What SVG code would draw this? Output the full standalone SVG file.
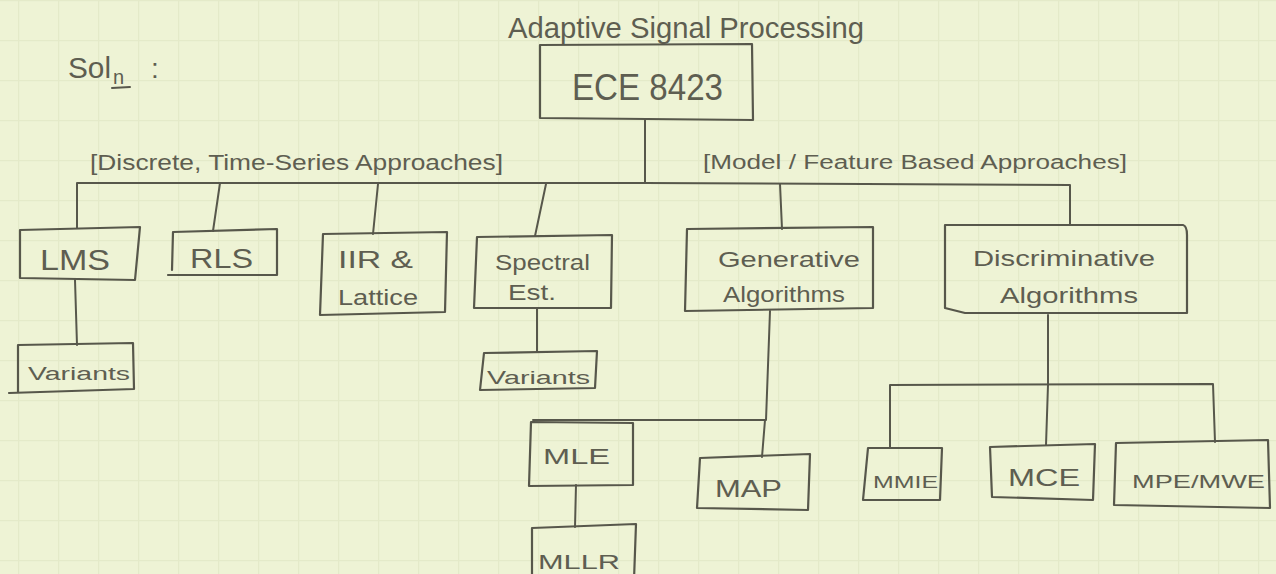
<svg xmlns="http://www.w3.org/2000/svg" width="1276" height="574" viewBox="0 0 1276 574">
<defs>
<pattern id="grid" x="18" y="0" width="40" height="40" patternUnits="userSpaceOnUse">
<path d="M40 0 L0 0 0 40" fill="none" stroke="#e4eac9" stroke-width="2.5"/>
</pattern>
<style>
.b{fill:none;stroke:#57574b;stroke-width:2.2;stroke-linejoin:round;stroke-linecap:round}
.c{fill:none;stroke:#57574b;stroke-width:2;stroke-linejoin:round;stroke-linecap:round}
.t{font-family:"Liberation Sans",Arial,sans-serif;fill:#5e5e51}
</style>
</defs>
<rect width="1276" height="574" fill="#eef3d5"/>
<rect width="1276" height="574" fill="url(#grid)"/>

<g id="title">
<text class="t" x="68" y="78" font-size="30" textLength="43" lengthAdjust="spacingAndGlyphs">Sol</text>
<text class="t" x="113" y="84" font-size="20">n</text>
<line class="c" x1="112" y1="88" x2="130" y2="87"/>
<text class="t" x="151" y="78" font-size="28">:</text>
<text class="t" x="508" y="38" font-size="30" textLength="356" lengthAdjust="spacingAndGlyphs">Adaptive Signal Processing</text>
<text class="t" x="90" y="170" font-size="22" textLength="413" lengthAdjust="spacingAndGlyphs">[Discrete, Time-Series Approaches]</text>
<text class="t" x="703" y="169" font-size="20" textLength="424" lengthAdjust="spacingAndGlyphs">[Model / Feature Based Approaches]</text>
</g>

<g id="connectors">
<path class="c" d="M645,119 L645,183"/>
<path class="c" d="M77,228 L77,183 L645,183 L1070,185 L1070,225"/>
<path class="c" d="M220,183 L213,231"/>
<path class="c" d="M378,184 L373,234"/>
<path class="c" d="M546,184 L535,236"/>
<path class="c" d="M780,184 L782,229"/>
<path class="c" d="M75,280 L77,345"/>
<path class="c" d="M537,309 L537,352"/>
<path class="c" d="M770,311 L766,420 L533,420"/>
<path class="c" d="M765,420 L762,457"/>
<path class="c" d="M576,485 L575,527"/>
<path class="c" d="M1048,315 L1048,385"/>
<path class="c" d="M890,447 L890,385 L1213,384 L1215,442"/>
<path class="c" d="M1048,385 L1046,445"/>
</g>

<g id="ece">
<path class="b" d="M540,45 L752,44 L753,120 L540,118 Z"/>
<text class="t" x="572" y="100" font-size="36" textLength="151" lengthAdjust="spacingAndGlyphs">ECE 8423</text>
</g>
<g id="lms">
<path class="b" d="M20,230 L140,227 L135,280 L20,278 Z"/>
<text class="t" x="40" y="270" font-size="30" textLength="70" lengthAdjust="spacingAndGlyphs">LMS</text>
</g>
<g id="lms-variants">
<path class="b" d="M18,345 L133,343 L134,389 L9,393 M18,345 L18,392"/>
<text class="t" x="28" y="380" font-size="18" textLength="102" lengthAdjust="spacingAndGlyphs">Variants</text>
</g>
<g id="rls">
<path class="b" d="M173,232 L277,229 L277,275 L168,275 M173,232 L172,270"/>
<text class="t" x="190" y="268" font-size="28" textLength="63" lengthAdjust="spacingAndGlyphs">RLS</text>
</g>
<g id="iir">
<path class="b" d="M323,234 L447,232 L445,312 L320,315 Z"/>
<text class="t" x="338" y="268" font-size="24" textLength="75" lengthAdjust="spacingAndGlyphs">IIR &amp;</text>
<text class="t" x="338" y="305" font-size="22" textLength="80" lengthAdjust="spacingAndGlyphs">Lattice</text>
</g>
<g id="spectral">
<path class="b" d="M477,237 L612,235 L611,308 L474,308 Z"/>
<text class="t" x="495" y="270" font-size="22" textLength="95" lengthAdjust="spacingAndGlyphs">Spectral</text>
<text class="t" x="508" y="300" font-size="22" textLength="48" lengthAdjust="spacingAndGlyphs">Est.</text>
</g>
<g id="spectral-variants">
<path class="b" d="M484,353 L597,351 L595,388 L480,390 Z"/>
<text class="t" x="487" y="384" font-size="18" textLength="103" lengthAdjust="spacingAndGlyphs">Variants</text>
</g>
<g id="generative">
<path class="b" d="M687,229 L873,227 L873,308 L685,311 Z"/>
<text class="t" x="718" y="267" font-size="22" textLength="142" lengthAdjust="spacingAndGlyphs">Generative</text>
<text class="t" x="723" y="302" font-size="22" textLength="122" lengthAdjust="spacingAndGlyphs">Algorithms</text>
</g>
<g id="discriminative">
<path class="b" d="M945,225 L1183,225 Q1187,226 1187,235 L1187,313 L965,313 L945,308 Z"/>
<text class="t" x="973" y="266" font-size="22" textLength="182" lengthAdjust="spacingAndGlyphs">Discriminative</text>
<text class="t" x="1000" y="303" font-size="22" textLength="138" lengthAdjust="spacingAndGlyphs">Algorithms</text>
</g>
<g id="mle">
<path class="b" d="M531,422 L633,423 L633,485 L529,486 Z"/>
<text class="t" x="543" y="464" font-size="22" textLength="67" lengthAdjust="spacingAndGlyphs">MLE</text>
</g>
<g id="map">
<path class="b" d="M700,458 L810,454 L808,510 L697,508 Z"/>
<text class="t" x="715" y="497" font-size="24" textLength="67" lengthAdjust="spacingAndGlyphs">MAP</text>
</g>
<g id="mllr">
<path class="b" d="M532,580 L532,528 L636,524 L634,580"/>
<text class="t" x="538" y="569" font-size="20" textLength="82" lengthAdjust="spacingAndGlyphs">MLLR</text>
</g>
<g id="mmie">
<path class="b" d="M868,448 L942,448 L940,500 L863,500 Z"/>
<text class="t" x="873" y="488" font-size="17" textLength="65" lengthAdjust="spacingAndGlyphs">MMIE</text>
</g>
<g id="mce">
<path class="b" d="M990,447 L1095,444 L1093,500 L992,497 Z"/>
<text class="t" x="1008" y="486" font-size="24" textLength="72" lengthAdjust="spacingAndGlyphs">MCE</text>
</g>
<g id="mpe">
<path class="b" d="M1116,443 L1268,440 L1270,508 L1114,505 Z"/>
<text class="t" x="1132" y="488" font-size="19" textLength="133" lengthAdjust="spacingAndGlyphs">MPE/MWE</text>
</g>
</svg>
